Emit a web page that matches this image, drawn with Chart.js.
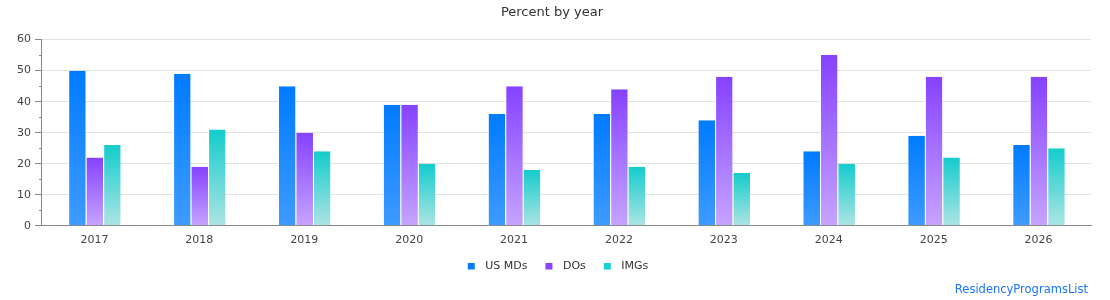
<!DOCTYPE html>
<html>
<head>
<meta charset="utf-8">
<script src="https://cdn.jsdelivr.net/npm/chart.js@4/dist/chart.umd.min.js"></script>
<style>
  html, body { margin: 0; padding: 0; background: #fff; }
  #wrap { position: relative; width: 1110px; height: 300px; }
  #brand { position: absolute; right: 22px; bottom: 4px; font-family: "DejaVu Sans", sans-serif; font-size: 11.5px; color: #1a75ff; }
</style>
</head>
<body>
<div id="wrap">
  <canvas id="c" width="1110" height="300"></canvas>
  <div id="brand">ResidencyProgramsList</div>
</div>
<script>
const categories = ['2017','2018','2019','2020','2021','2022','2023','2024','2025','2026'];
const usMDs = [50, 49, 45, 39, 36, 36, 34, 24, 29, 26];
const dOs   = [22, 19, 30, 39, 45, 44, 48, 55, 48, 48];
const iMGs  = [26, 31, 24, 20, 18, 19, 17, 20, 22, 25];
const seriesNames = ['US MDs', 'DOs', 'IMGs'];
const yMax = 60;
const yMajorStep = 10;
const yMinorStep = 5;

const palette = [
  { top: '#007bff', bottom: '#3e9bff', legend: '#0a7cff' },
  { top: '#8642ff', bottom: '#c6a4ff', legend: '#8844ff' },
  { top: '#14cccc', bottom: '#ade4e4', legend: '#1ccfcf' }
];

function gradFor(idx) {
  return function (ctx) {
    const chart = ctx.chart;
    const c = palette[idx];
    if (ctx.type !== 'data' || !chart.chartArea || !chart.scales.y) return c.legend;
    const y = chart.scales.y;
    const top = y.getPixelForValue(ctx.raw);
    const bot = y.getPixelForValue(0);
    if (!isFinite(top) || !isFinite(bot) || top === bot) return c.legend;
    const g = chart.ctx.createLinearGradient(0, top, 0, bot);
    g.addColorStop(0, c.top);
    g.addColorStop(1, c.bottom);
    return g;
  };
}

// legend marker: small square on the left of a wider transparent canvas
const LEG_W = 24, LEG_H = 8, LEG_OFF = 12, LEG_BOX = 7;
function legendMarker(color) {
  const cv = document.createElement('canvas');
  cv.width = LEG_W; cv.height = LEG_H;
  const g = cv.getContext('2d');
  g.fillStyle = color;
  g.fillRect(LEG_OFF, 0, LEG_BOX, LEG_BOX);
  return cv;
}

const dataArrays = [usMDs, dOs, iMGs];
const datasets = seriesNames.map((name, i) => ({
  label: name,
  data: dataArrays[i],
  backgroundColor: gradFor(i),
  borderColor: '#ffffff',
  borderWidth: { left: 1, right: 0, top: 0, bottom: 0 },
  borderSkipped: false,
  categoryPercentage: 0.5,
  barPercentage: 1.0
}));

// short minor tick marks on the y axis
const minorTicks = {
  id: 'minorTicks',
  afterDraw(chart) {
    const y = chart.scales.y;
    const ctx = chart.ctx;
    ctx.save();
    ctx.strokeStyle = '#888';
    ctx.lineWidth = 1;
    for (let v = yMinorStep; v < yMax; v += yMajorStep) {
      const py = Math.round(y.getPixelForValue(v)) + 0.5;
      ctx.beginPath();
      ctx.moveTo(y.right - 3, py);
      ctx.lineTo(y.right, py);
      ctx.stroke();
    }
    ctx.restore();
  }
};

Chart.defaults.font.family = '"DejaVu Sans", sans-serif';
Chart.defaults.color = '#444';

new Chart(document.getElementById('c'), {
  type: 'bar',
  data: { labels: categories, datasets },
  plugins: [minorTicks],
  options: {
    responsive: false,
    animation: false,
    layout: { padding: { left: 13, right: 19, top: 0, bottom: 18 } },
    plugins: {
      title: {
        display: true,
        text: 'Percent by year',
        color: '#333',
        font: { size: 13, weight: 'normal' },
        padding: { top: 5, bottom: 19 }
      },
      legend: {
        position: 'bottom',
        labels: {
          usePointStyle: true,
          pointStyleWidth: LEG_W,
          boxHeight: 8,
          font: { size: 11 },
          color: '#333',
          padding: 6,
          generateLabels: (chart) => seriesNames.map((n, i) => ({
            text: n,
            fillStyle: palette[i].legend,
            strokeStyle: palette[i].legend,
            pointStyle: legendMarker(palette[i].legend),
            lineWidth: 0,
            hidden: false,
            datasetIndex: i,
            fontColor: '#333'
          }))
        }
      },
      tooltip: { enabled: false }
    },
    scales: {
      x: {
        grid: { display: false, drawTicks: false },
        border: { display: true, color: '#888', width: 1 },
        ticks: { font: { size: 11 }, color: '#444', padding: 8 }
      },
      y: {
        min: 0,
        max: yMax,
        ticks: {
          stepSize: yMajorStep,
          font: { size: 11 },
          color: '#444',
          padding: 4
        },
        grid: {
          color: '#e2e2e2',
          tickColor: '#888',
          tickLength: 7,
          drawTicks: true
        },
        border: { display: true, color: '#888', width: 1 }
      }
    }
  }
});
</script>
</body>
</html>
